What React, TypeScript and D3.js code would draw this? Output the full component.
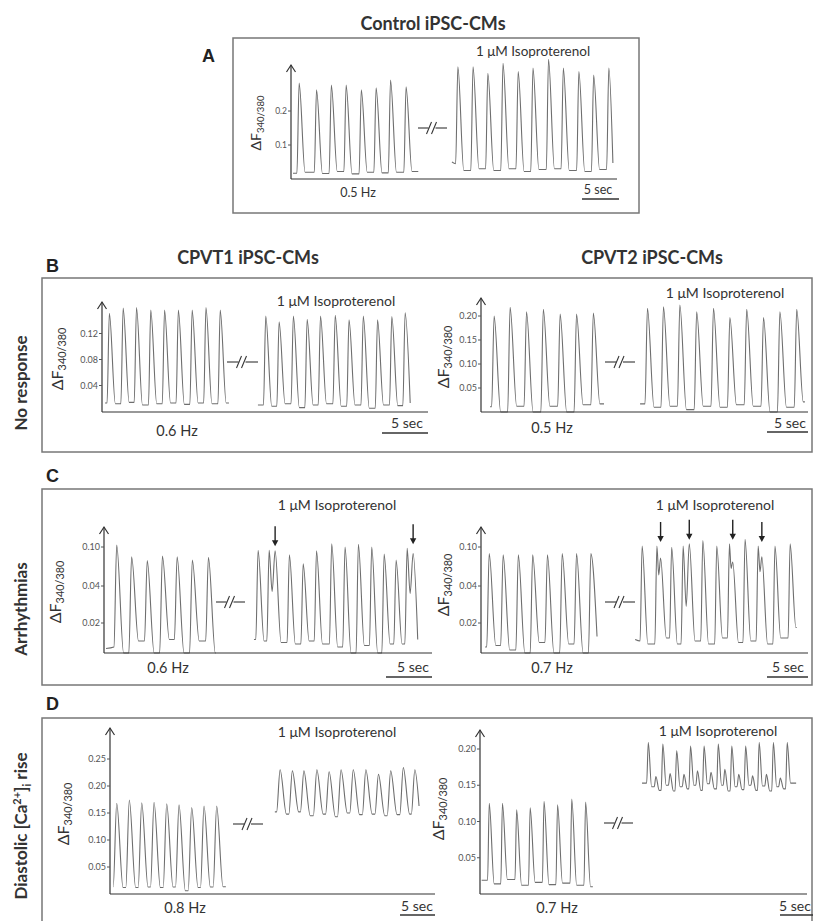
import * as d3 from 'd3';

// ---- data: peaks as [time s, ΔF340/380], troughs = value before each peak, ends = [start, end]
const A_BASE_ENDS = [[0.27, 0.017], [17.2, 0.022]];
const A_BASE_PEAKS = [[1.1, 0.282], [3.45, 0.262], [5.45, 0.276], [7.45, 0.276], [9.5, 0.262], [11.5, 0.268], [13.45, 0.291], [15.55, 0.271]];
const A_BASE_TROUGHS = [0.017, 0.02, 0.016, 0.022, 0.015, 0.02, 0.018, 0.02];
const A_ISO_ENDS = [[21.75, 0.05], [43.5, 0.047]];
const A_ISO_PEAKS = [[22.55, 0.33], [24.6, 0.33], [26.6, 0.311], [28.65, 0.34], [30.7, 0.316], [32.7, 0.326], [34.8, 0.352], [36.8, 0.326], [38.9, 0.316], [40.9, 0.306], [42.95, 0.326]];
const A_ISO_TROUGHS = [0.045, 0.025, 0.03, 0.025, 0.03, 0.022, 0.028, 0.03, 0.025, 0.022, 0.028];

const B1_BASE_ENDS = [[0.33, 0.013], [13.8, 0.013]];
const B1_BASE_PEAKS = [[0.8, 0.151], [2.3, 0.159], [3.75, 0.16], [5.3, 0.156], [6.8, 0.156], [8.3, 0.156], [9.8, 0.156], [11.3, 0.16], [12.85, 0.156]];
const B1_BASE_TROUGHS = [0.013, 0.012, 0.014, 0.01, 0.012, 0.013, 0.011, 0.013, 0.012];
const B1_ISO_ENDS = [[16.95, 0.01], [33.5, 0.013]];
const B1_ISO_PEAKS = [[17.8, 0.147], [19.25, 0.138], [20.8, 0.147], [22.3, 0.142], [23.75, 0.147], [25.35, 0.148], [26.85, 0.141], [28.4, 0.147], [29.95, 0.141], [31.5, 0.146], [32.95, 0.152]];
const B1_ISO_TROUGHS = [0.01, 0.008, 0.012, 0.006, 0.01, 0.012, 0.008, 0.01, 0.005, 0.01, 0.009];

const B2_BASE_ENDS = [[1.1, 0.011], [15.0, 0.017]];
const B2_BASE_PEAKS = [[1.6, 0.2], [3.55, 0.218], [5.55, 0.209], [7.6, 0.214], [9.65, 0.204], [11.65, 0.204], [13.7, 0.206]];
const B2_BASE_TROUGHS = [0.011, 0.0, 0.012, 0.0, 0.012, 0.0, 0.015];
const B2_ISO_ENDS = [[19.4, 0.017], [39.5, 0.021]];
const B2_ISO_PEAKS = [[20.3, 0.216], [22.25, 0.219], [24.25, 0.223], [26.3, 0.209], [28.35, 0.216], [30.35, 0.197], [32.4, 0.214], [34.45, 0.197], [36.45, 0.209], [38.5, 0.214]];
const B2_ISO_TROUGHS = [0.017, 0.01, 0.012, 0.005, 0.012, 0.01, 0.015, 0.012, 0.0, 0.01];

const C1_BASE_ENDS = [[0.22, 0.003], [12.15, 0.0]];
const C1_BASE_PEAKS = [[1.38, 0.103], [3.0, 0.085], [4.7, 0.079], [6.35, 0.086], [7.95, 0.085], [9.6, 0.08], [11.35, 0.084]];
const C1_BASE_TROUGHS = [0.004, 0.0, 0.008, 0.0, 0.009, 0.0, 0.008];
const C1_ISO_ENDS = [[16.3, 0.009], [34.1, 0.009]];
const C1_ISO_PEAKS = [[16.75, 0.095], [17.95, 0.095], [18.6, 0.094], [20.15, 0.088], [21.65, 0.074], [23.1, 0.094], [24.75, 0.105], [26.2, 0.1], [27.65, 0.104], [29.1, 0.1], [30.45, 0.089], [31.75, 0.08], [32.95, 0.098], [33.6, 0.09]];
const C1_ISO_TROUGHS = [0.009, 0.008, 0.037, 0.007, 0.006, 0.008, 0.006, 0.004, 0.0, 0.005, 0.0, 0.006, 0.006, 0.036];
const C1_ARROWS = [18.6, 33.6];

const C2_BASE_ENDS = [[0.5, 0.004], [14.15, 0.011]];
const C2_BASE_PEAKS = [[1.0, 0.09], [2.7, 0.088], [4.55, 0.088], [6.3, 0.088], [8.1, 0.088], [9.9, 0.09], [11.65, 0.09], [13.4, 0.09]];
const C2_BASE_TROUGHS = [0.004, 0.005, 0.002, 0.0, 0.007, 0.0, 0.006, 0.0];
const C2_ISO_ENDS = [[18.8, 0.009], [38.5, 0.017]];
const C2_ISO_PEAKS = [[19.65, 0.1015], [21.45, 0.1015], [21.9, 0.083], [23.25, 0.0995], [24.65, 0.1015], [25.4, 0.105], [27.05, 0.11], [28.75, 0.1015], [30.3, 0.105], [30.7, 0.077], [32.2, 0.112], [33.8, 0.1015], [34.25, 0.085], [35.85, 0.1015], [37.7, 0.105]];
const C2_ISO_TROUGHS = [0.008, 0.006, 0.057, 0.01, 0.006, 0.029, 0.008, 0.006, 0.01, 0.067, 0.007, 0.008, 0.062, 0.006, 0.01];
const C2_ARROWS = [21.9, 25.4, 30.7, 34.25];

const D1_BASE_ENDS = [[0.43, 0.0135], [16.55, 0.0135]];
const D1_BASE_PEAKS = [[0.96, 0.168], [2.76, 0.174], [4.53, 0.169], [6.29, 0.17], [8.1, 0.167], [9.86, 0.165], [11.67, 0.16], [13.43, 0.163], [15.24, 0.163]];
const D1_BASE_TROUGHS = [0.0135, 0.012, 0.012, 0.013, 0.012, 0.013, 0.006, 0.012, 0.013];
const D1_ISO_ENDS = [[23.55, 0.152], [44.15, 0.163]];
const D1_ISO_PEAKS = [[24.3, 0.23], [26.05, 0.228], [27.7, 0.228], [29.55, 0.23], [31.3, 0.2265], [33.0, 0.23], [34.75, 0.23], [36.55, 0.23], [38.35, 0.2216], [40.1, 0.228], [41.9, 0.234], [43.55, 0.23]];
const D1_ISO_TROUGHS = [0.152, 0.148, 0.152, 0.145, 0.148, 0.143, 0.15, 0.147, 0.148, 0.145, 0.147, 0.148];

const D2_BASE_ENDS = [[0.25, 0.019], [17.1, 0.01]];
const D2_BASE_PEAKS = [[1.4, 0.125], [3.4, 0.125], [5.55, 0.116], [7.6, 0.119], [9.7, 0.128], [11.75, 0.123], [13.9, 0.131], [16.0, 0.127]];
const D2_BASE_TROUGHS = [0.019, 0.014, 0.02, 0.012, 0.016, 0.013, 0.015, 0.012];
const D2_ISO_ENDS = [[24.55, 0.153], [47.9, 0.153]];
const D2_ISO_PEAKS = [[25.5, 0.209], [26.65, 0.162], [27.7, 0.207], [28.8, 0.166], [29.8, 0.198], [30.9, 0.165], [31.9, 0.204], [32.95, 0.17], [33.95, 0.204], [35.0, 0.168], [36.1, 0.207], [37.1, 0.172], [38.15, 0.204], [39.2, 0.165], [40.25, 0.204], [41.3, 0.163], [42.3, 0.209], [43.4, 0.165], [44.45, 0.209], [45.5, 0.16], [46.55, 0.209]];
const D2_ISO_TROUGHS = [0.153, 0.148, 0.143, 0.15, 0.142, 0.148, 0.145, 0.15, 0.143, 0.152, 0.145, 0.15, 0.142, 0.148, 0.144, 0.15, 0.143, 0.149, 0.142, 0.148, 0.145];

const A_TICKS = [0.1, 0.2];
const B1_TICKS = [0.04, 0.08, 0.12];
const B2_TICKS = [0.05, 0.1, 0.15, 0.2];
const C_TICKS = [0.02, 0.04, 0.1];
const D1_TICKS = [0.05, 0.1, 0.15, 0.2, 0.25];
const D2_TICKS = [0.05, 0.1, 0.15, 0.2];

const FONT = "Lato, 'Open Sans', sans-serif";
const TRACE = '#6e6e6e';

// turn read peaks/troughs into line vertices
function vertices(ends, peaks, troughs, rise, decay) {
  const pts = [ends[0]];
  peaks.forEach(([t, v], i) => {
    const base = troughs[i];
    if (i === 0) {
      if (t - rise > ends[0][0]) pts.push([t - rise, base]);
    } else {
      const pt = peaks[i - 1][0];
      if (t - pt <= rise + decay) pts.push([(pt + t) / 2, base]);
      else { pts.push([pt + decay, base]); pts.push([t - rise, base]); }
    }
    pts.push([t, v]);
  });
  const last = peaks[peaks.length - 1][0];
  if (ends[1][0] - last > decay) pts.push([last + decay, ends[1][1]]);
  pts.push(ends[1]);
  return pts;
}

const PANELS = [
  { id: 'A', axisX: 291, axisEnd: 617, axisY: 179, top: 65, pps: 7.4, yDom: [0, 0.3], yRange: [179, 77], ticks: A_TICKS, fmt: '.1f', tickSize: 8.5,
    ylab: [256, 123], ylabSize: 14, brk: [418, 447, 128], iso: [533, 56], isoSize: 13.5, hz: '0.5 Hz', hzPos: [358, 197], hzSize: 12.5,
    bar: [619, 199], secPos: [598, 194], secSize: 12.5,
    traces: [[A_BASE_ENDS, A_BASE_PEAKS, A_BASE_TROUGHS, 0.3, 0.8], [A_ISO_ENDS, A_ISO_PEAKS, A_ISO_TROUGHS, 0.3, 0.8]], arrows: [] },
  { id: 'B1', axisX: 102, axisEnd: 428, axisY: 412, top: 302, pps: 9.2, yDom: [0, 0.16], yRange: [411.5, 307.5], ticks: B1_TICKS, fmt: '.2f', tickSize: 9,
    ylab: [57, 359], ylabSize: 16, brk: [227, 258, 362], iso: [336, 306], isoSize: 14, hz: '0.6 Hz', hzPos: [177, 436], hzSize: 14.5,
    bar: [428, 433], secPos: [407, 428], secSize: 14,
    traces: [[B1_BASE_ENDS, B1_BASE_PEAKS, B1_BASE_TROUGHS, 0.25, 0.65], [B1_ISO_ENDS, B1_ISO_PEAKS, B1_ISO_TROUGHS, 0.25, 0.65]], arrows: [] },
  { id: 'B2', axisX: 481, axisEnd: 808, axisY: 412, top: 298, pps: 8.2, yDom: [0, 0.2], yRange: [412, 316], ticks: B2_TICKS, fmt: '.2f', tickSize: 9,
    ylab: [443, 357], ylabSize: 16, brk: [605, 635, 362], iso: [725, 298], isoSize: 14, hz: '0.5 Hz', hzPos: [552, 433], hzSize: 14.5,
    bar: [808, 432], secPos: [790, 428], secSize: 14,
    traces: [[B2_BASE_ENDS, B2_BASE_PEAKS, B2_BASE_TROUGHS, 0.3, 0.8], [B2_ISO_ENDS, B2_ISO_PEAKS, B2_ISO_TROUGHS, 0.3, 0.8]], arrows: [] },
  { id: 'C1', axisX: 104, axisEnd: 432, axisY: 653, top: 527, pps: 9.2, yDom: [0, 0.02, 0.04, 0.1], yRange: [653, 623, 586, 547], ticks: C_TICKS, fmt: '.2f', tickSize: 9,
    ylab: [55, 592], ylabSize: 16, brk: [216, 245, 602], iso: [337, 510], isoSize: 14, hz: '0.6 Hz', hzPos: [168, 673], hzSize: 14.5,
    bar: [432, 677], secPos: [413, 672], secSize: 14,
    traces: [[C1_BASE_ENDS, C1_BASE_PEAKS, C1_BASE_TROUGHS, 0.3, 0.75], [C1_ISO_ENDS, C1_ISO_PEAKS, C1_ISO_TROUGHS, 0.25, 0.65]], arrows: [[C1_ARROWS, C1_ISO_PEAKS]] },
  { id: 'C2', axisX: 481, axisEnd: 808, axisY: 653, top: 527, pps: 8.2, yDom: [0, 0.02, 0.04, 0.1], yRange: [653, 623, 586, 547], ticks: C_TICKS, fmt: '.2f', tickSize: 9,
    ylab: [443, 585], ylabSize: 16, brk: [605, 635, 602], iso: [715, 510], isoSize: 14, hz: '0.7 Hz', hzPos: [552, 673], hzSize: 14.5,
    bar: [808, 677], secPos: [788, 672], secSize: 14,
    traces: [[C2_BASE_ENDS, C2_BASE_PEAKS, C2_BASE_TROUGHS, 0.3, 0.8], [C2_ISO_ENDS, C2_ISO_PEAKS, C2_ISO_TROUGHS, 0.25, 0.7]], arrows: [[C2_ARROWS, C2_ISO_PEAKS]] },
  { id: 'D1', axisX: 110, axisEnd: 435, axisY: 894, top: 728, pps: 7, yDom: [0, 0.25], yRange: [894, 759], ticks: D1_TICKS, fmt: '.2f', tickSize: 9,
    ylab: [63, 814], ylabSize: 16, brk: [233, 263, 824], iso: [337, 737], isoSize: 14, hz: '0.8 Hz', hzPos: [185, 913], hzSize: 14.5,
    bar: [435, 915], secPos: [417, 911], secSize: 14,
    traces: [[D1_BASE_ENDS, D1_BASE_PEAKS, D1_BASE_TROUGHS, 0.5, 0.9], [D1_ISO_ENDS, D1_ISO_PEAKS, D1_ISO_TROUGHS, 0.5, 0.9]], arrows: [] },
  { id: 'D2', axisX: 480, axisEnd: 807, axisY: 894, top: 730, pps: 6.6, yDom: [0, 0.2], yRange: [894, 749], ticks: D2_TICKS, fmt: '.2f', tickSize: 9,
    ylab: [438, 809], ylabSize: 16, brk: [604, 633, 823], iso: [718, 736], isoSize: 14, hz: '0.7 Hz', hzPos: [557, 913], hzSize: 14.5,
    bar: [813, 915], secPos: [795, 911], secSize: 14,
    traces: [[D2_BASE_ENDS, D2_BASE_PEAKS, D2_BASE_TROUGHS, 0.25, 0.75], [D2_ISO_ENDS, D2_ISO_PEAKS, D2_ISO_TROUGHS, 0.25, 0.5]], arrows: [] },
];

function Panel({ p }) {
  const x = d3.scaleLinear().domain([0, (p.axisEnd - p.axisX) / p.pps]).range([p.axisX, p.axisEnd]);
  const y = d3.scaleLinear().domain(p.yDom).range(p.yRange);
  const line = d3.line().x(d => x(d[0])).y(d => y(d[1])).curve(d3.curveMonotoneX);
  const fmt = d3.format(p.fmt);
  const [b1, b2, by] = p.brk;
  const bc = (b1 + b2) / 2;
  return (
    <g>
      {p.traces.map((tr, i) => (
        <path key={i} d={line(vertices(tr[0], tr[1], tr[2], tr[3], tr[4]))} fill="none" stroke={TRACE} strokeWidth={1.1} strokeLinejoin="round" />
      ))}
      {/* axes */}
      <line x1={p.axisX} x2={p.axisX} y1={p.axisY} y2={p.top} stroke="#333" strokeWidth={1.2} />
      <path d={`M${p.axisX - 4.5},${p.top + 7}L${p.axisX},${p.top}L${p.axisX + 4.5},${p.top + 7}`} fill="none" stroke="#333" strokeWidth={1.2} />
      <line x1={p.axisX} x2={p.axisEnd} y1={p.axisY} y2={p.axisY} stroke="#333" strokeWidth={1.2} />
      {p.ticks.map(t => (
        <g key={t}>
          <line x1={p.axisX - 3} x2={p.axisX} y1={y(t)} y2={y(t)} stroke="#555" strokeWidth={1} />
          <text x={p.axisX - 4} y={y(t)} dy="0.35em" textAnchor="end" fontSize={p.tickSize} fill="#555" fontFamily={FONT}>{fmt(t)}</text>
        </g>
      ))}
      <text transform={`translate(${p.ylab[0]},${p.ylab[1]}) rotate(-90)`} textAnchor="middle" dy="0.35em" fontSize={p.ylabSize} fill="#333" fontFamily={FONT}>
        ΔF<tspan fontSize={p.ylabSize * 0.68} dy="0.35em">340/380</tspan>
      </text>
      {/* break */}
      <line x1={b1} x2={b2} y1={by} y2={by} stroke="#333" strokeWidth={1.1} />
      <rect x={bc - 4} y={by - 5} width={7} height={10} fill="#fff" />
      <line x1={bc - 6} x2={bc - 1} y1={by + 6} y2={by - 6} stroke="#333" strokeWidth={1.1} />
      <line x1={bc - 1} x2={bc + 4} y1={by + 6} y2={by - 6} stroke="#333" strokeWidth={1.1} />
      <text x={p.iso[0]} y={p.iso[1]} textAnchor="middle" fontSize={p.isoSize} fill="#333" fontFamily={FONT}>1 μM Isoproterenol</text>
      <text x={p.hzPos[0]} y={p.hzPos[1]} textAnchor="middle" fontSize={p.hzSize} fill="#333" fontFamily={FONT}>{p.hz}</text>
      <text x={p.secPos[0]} y={p.secPos[1]} textAnchor="middle" fontSize={p.secSize} fill="#333" fontFamily={FONT}>5 sec</text>
      <line x1={p.bar[0] - 5 * p.pps} x2={p.bar[0]} y1={p.bar[1]} y2={p.bar[1]} stroke="#333" strokeWidth={1.3} />
      {p.arrows.map(([times, peaks], k) => times.map(t => {
        const pk = peaks.filter(q => Math.abs(q[0] - t) < 0.8);
        const tip = d3.min(pk, q => y(q[1])) - 4;
        return (
          <g key={`${k}-${t}`}>
            <line x1={x(t)} x2={x(t)} y1={tip - 20} y2={tip - 5} stroke="#222" strokeWidth={1.4} />
            <path d={`M${x(t) - 3.2},${tip - 6}L${x(t) + 3.2},${tip - 6}L${x(t)},${tip}Z`} fill="#222" />
          </g>
        );
      }))}
    </g>
  );
}

export default function App() {
  const box = { fill: 'none', stroke: '#777', strokeWidth: 1.5 };
  return (
    <svg width={814} height={921} style={{ position: 'absolute', left: 0, top: 0, background: '#fff' }}>
      <rect x={0} y={0} width={814} height={921} fill="#fff" />
      <text x={433} y={30} textAnchor="middle" fontSize={18} fontWeight="bold" fill="#333" fontFamily={FONT}>Control iPSC-CMs</text>
      <text x={248} y={264} textAnchor="middle" fontSize={18} fontWeight="bold" fill="#333" fontFamily={FONT}>CPVT1 iPSC-CMs</text>
      <text x={652} y={264} textAnchor="middle" fontSize={18} fontWeight="bold" fill="#333" fontFamily={FONT}>CPVT2 iPSC-CMs</text>
      {[['A', 202, 62], ['B', 46, 272], ['C', 46, 482], ['D', 46, 710]].map(([l, lx, ly]) => (
        <text key={l} x={lx} y={ly} fontSize={18} fontWeight="bold" fill="#222" fontFamily="'Liberation Sans', Arial, sans-serif">{l}</text>
      ))}
      <rect x={233} y={38} width={406} height={175} {...box} />
      <rect x={42} y={278} width={770} height={174} {...box} />
      <rect x={42} y={489} width={770} height={196} {...box} />
      <rect x={42} y={718} width={770} height={210} {...box} />
      <text transform="translate(21,383) rotate(-90)" textAnchor="middle" dy="0.35em" fontSize={17} fontWeight="bold" fill="#333" fontFamily={FONT}>No response</text>
      <text transform="translate(21,609) rotate(-90)" textAnchor="middle" dy="0.35em" fontSize={17} fontWeight="bold" fill="#333" fontFamily={FONT}>Arrhythmias</text>
      <text transform="translate(21,826) rotate(-90)" textAnchor="middle" dy="0.35em" fontSize={17} fontWeight="bold" fill="#333" fontFamily={FONT}>
        Diastolic [Ca<tspan fontSize={11} dy="-6">2+</tspan><tspan dy="6">]</tspan><tspan fontSize={11} dy="4">i</tspan><tspan dy="-4"> rise</tspan>
      </text>
      {PANELS.map(p => <Panel key={p.id} p={p} />)}
    </svg>
  );
}
